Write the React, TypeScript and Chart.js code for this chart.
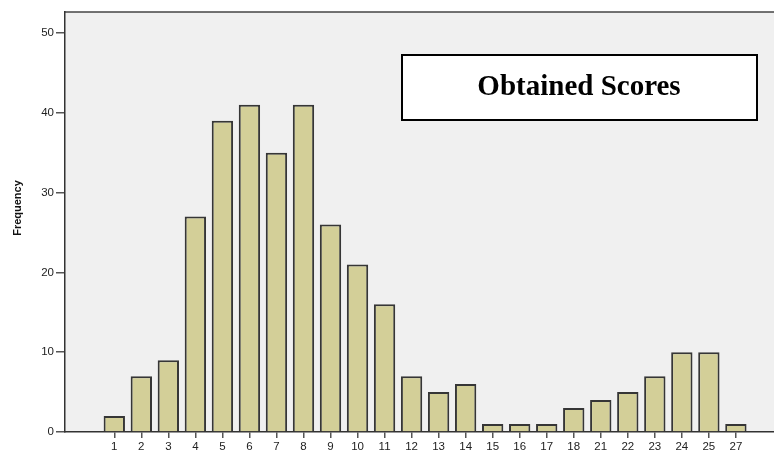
import React, { useEffect, useRef } from "react";
import { Chart, registerables } from "chart.js";

Chart.register(...registerables);

const categories = ["1","2","3","4","5","6","7","8","9","10","11","12","13","14","15","16","17","18","21","22","23","24","25","27"];
const frequencies = [2,7,9,27,39,41,35,41,26,21,16,7,5,6,1,1,1,3,4,5,7,10,10,1];
const yTicks = [0,10,20,30,40,50];
const chartTitle = "Obtained Scores";
const yTitle = "Frequency";

const decorPlugin = {
  id: "decor",
  beforeDraw(chart: any) {
    const { ctx, chartArea, width, height } = chart;
    ctx.save();
    ctx.fillStyle = "#ffffff";
    ctx.fillRect(0, 0, width, height);
    ctx.fillStyle = "#f0f0f0";
    ctx.fillRect(chartArea.left, chartArea.top, chartArea.right - chartArea.left, chartArea.bottom - chartArea.top);
    ctx.strokeStyle = "#444";
    ctx.lineWidth = 1.5;
    ctx.beginPath();
    ctx.moveTo(chartArea.left, chartArea.top);
    ctx.lineTo(chartArea.right, chartArea.top);
    ctx.stroke();
    ctx.restore();
  },
  afterDraw(chart: any) {
    const { ctx } = chart;
    ctx.save();
    const bx = 402, by = 55, bw = 355, bh = 65;
    ctx.fillStyle = "#ffffff";
    ctx.fillRect(bx, by, bw, bh);
    ctx.strokeStyle = "#000";
    ctx.lineWidth = 2;
    ctx.strokeRect(bx, by, bw, bh);
    ctx.fillStyle = "#000";
    ctx.font = "bold 29px 'Liberation Serif', 'Times New Roman', serif";
    ctx.textAlign = "center";
    ctx.textBaseline = "middle";
    ctx.fillText(chartTitle, 579, 88);
    ctx.translate(18, 208);
    ctx.rotate(-Math.PI / 2);
    ctx.font = "bold 11px 'Liberation Sans', Arial, sans-serif";
    ctx.fillStyle = "#111";
    ctx.fillText(yTitle, 0, 0);
    ctx.restore();
  },
};

export default function App() {
  const canvasRef = useRef<HTMLCanvasElement | null>(null);

  useEffect(() => {
    if (!canvasRef.current) return;
    const chart = new Chart(canvasRef.current, {
      type: "bar",
      data: {
        datasets: [
          {
            label: yTitle,
            data: frequencies.map((v, i) => ({ x: i, y: v })),
            backgroundColor: "#d3cf98",
            borderColor: "#363636",
            borderWidth: 2,
            barPercentage: 0.79,
            categoryPercentage: 1,
          },
        ],
      },
      options: {
        animation: false,
        responsive: true,
        maintainAspectRatio: false,
        layout: { padding: { top: 12, right: 0, left: 0, bottom: 0 } },
        plugins: { legend: { display: false }, tooltip: { enabled: false }, title: { display: false } },
        scales: {
          x: {
            type: "linear",
            offset: false,
            min: -1.824,
            max: 24.41,
            afterBuildTicks: (scale: any) => {
              scale.ticks = categories.map((_, i) => ({ value: i }));
            },
            afterFit: (scale: any) => {
              scale.height = 18;
            },
            ticks: {
              autoSkip: false,
              maxRotation: 0,
              padding: 2,
              color: "#222",
              font: { family: "'Liberation Sans', Arial, sans-serif", size: 11.5 },
              callback: (v: any) => categories[v] ?? "",
            },
            grid: { display: true, offset: false, drawOnChartArea: false, drawTicks: true, tickLength: 6, color: "#555", lineWidth: 1.5 },
            border: { display: true, color: "#333", width: 1.5 },
          },
          y: {
            type: "linear",
            min: 0,
            max: 52.63,
            afterBuildTicks: (scale: any) => {
              scale.ticks = yTicks.map((v) => ({ value: v }));
            },
            afterFit: (scale: any) => {
              scale.width = 65;
            },
            ticks: {
              padding: 2,
              color: "#222",
              font: { family: "'Liberation Sans', Arial, sans-serif", size: 11.5 },
            },
            grid: { display: true, drawOnChartArea: false, drawTicks: true, tickLength: 9, color: "#555", lineWidth: 1.5 },
            border: { display: true, color: "#333", width: 1.5 },
          },
        },
      },
      plugins: [decorPlugin],
    });
    return () => chart.destroy();
  }, []);

  return (
    <div style={{ position: "fixed", left: 0, top: 0, width: 774, height: 450 }}>
      <canvas ref={canvasRef} />
    </div>
  );
}
